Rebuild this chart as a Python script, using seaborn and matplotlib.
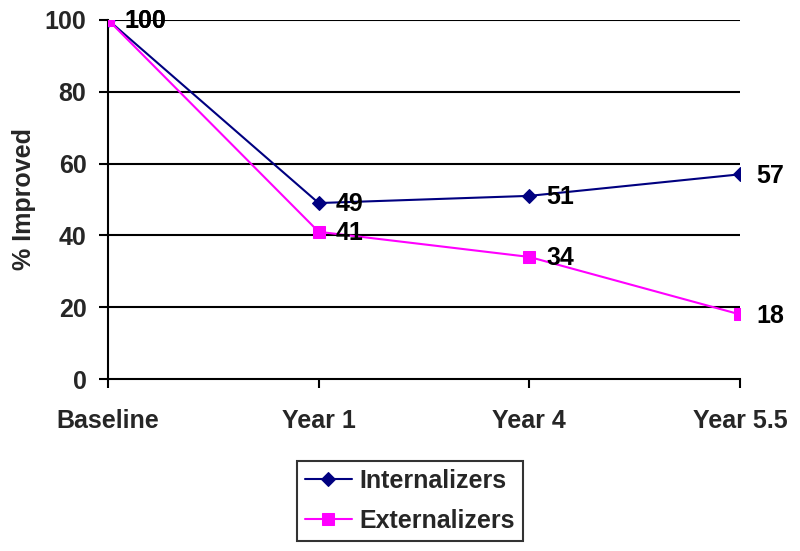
import matplotlib
matplotlib.use("Agg")
import matplotlib.pyplot as plt
import seaborn as sns
import pandas as pd

categories = ["Baseline", "Year 1", "Year 4", "Year 5.5"]
internalizers = [100, 49, 51, 57]
externalizers = [100, 41, 34, 18]
series_names = ["Internalizers", "Externalizers"]
y_ticks = [0, 20, 40, 60, 80, 100]

sns.set_theme(style="white")
plt.rcParams['font.family'] = ['Liberation Sans', 'DejaVu Sans']
plt.rcParams['font.weight'] = 'bold'

FS = 18

df = pd.DataFrame({
    "x": list(range(len(categories))) * 2,
    "value": internalizers + externalizers,
    "series": [series_names[0]] * len(categories) + [series_names[1]] * len(categories),
})

fig = plt.figure(figsize=(8, 5.51), dpi=100)
ax = fig.add_axes([0.135, 0.312, 0.79, 0.652])

for y in y_ticks[1:]:
    ax.axhline(y, color="black", lw=1.5, zorder=1)

palette = {"Internalizers": "#000080", "Externalizers": "#FF00FF"}
markers = {"Internalizers": "D", "Externalizers": "s"}
sizes = {"Internalizers": 7.5, "Externalizers": 9}
for name in series_names:
    sub = df[df.series == name]
    sns.lineplot(data=sub, x="x", y="value", ax=ax, color=palette[name],
                 marker=markers[name], markersize=sizes[name],
                 markeredgecolor=palette[name], lw=1.5, label=name, zorder=3)
    for xv, yv in zip(sub.x, sub.value):
        ax.annotate(str(yv), (xv, yv), xytext=(12, -1), textcoords="offset points",
                    ha="left", va="center", fontsize=FS, fontweight="bold", color="black",
                    zorder=4)

ax.set_xlim(0, 3)
ax.set_ylim(0, 100)
ax.set_xticks(range(len(categories)))
ax.set_xticklabels(categories, fontsize=FS, fontweight="bold")
ax.set_yticks(y_ticks)
ax.set_yticklabels([str(v) for v in y_ticks], fontsize=FS, fontweight="bold")
ax.tick_params(axis="both", direction="out", length=6.5, width=1.5, color="black",
               bottom=True, left=True)
ax.tick_params(axis="x", pad=15)
ax.tick_params(axis="y", pad=9)
ax.set_xlabel("")
ax.set_ylabel("% Improved", fontsize=FS, fontweight="bold", labelpad=6)
for s in ["top", "right"]:
    ax.spines[s].set_visible(False)
for s in ["left", "bottom"]:
    ax.spines[s].set_color("black")
    ax.spines[s].set_linewidth(1.5)
ax.patch.set_alpha(0)

if ax.get_legend():
    ax.get_legend().remove()
handles, labels = ax.get_legend_handles_labels()
leg = fig.legend(handles, labels, loc="center", bbox_to_anchor=(0.5125, 0.0907),
                 fontsize=FS, frameon=True, fancybox=False, edgecolor="black",
                 handlelength=1.9, borderpad=0.3, labelspacing=0.65, handletextpad=0.3,
                 borderaxespad=0)
leg.get_frame().set_linewidth(1.5)
for t in leg.get_texts():
    t.set_fontweight("bold")

fig.savefig("out.png", dpi=100, facecolor="white")
